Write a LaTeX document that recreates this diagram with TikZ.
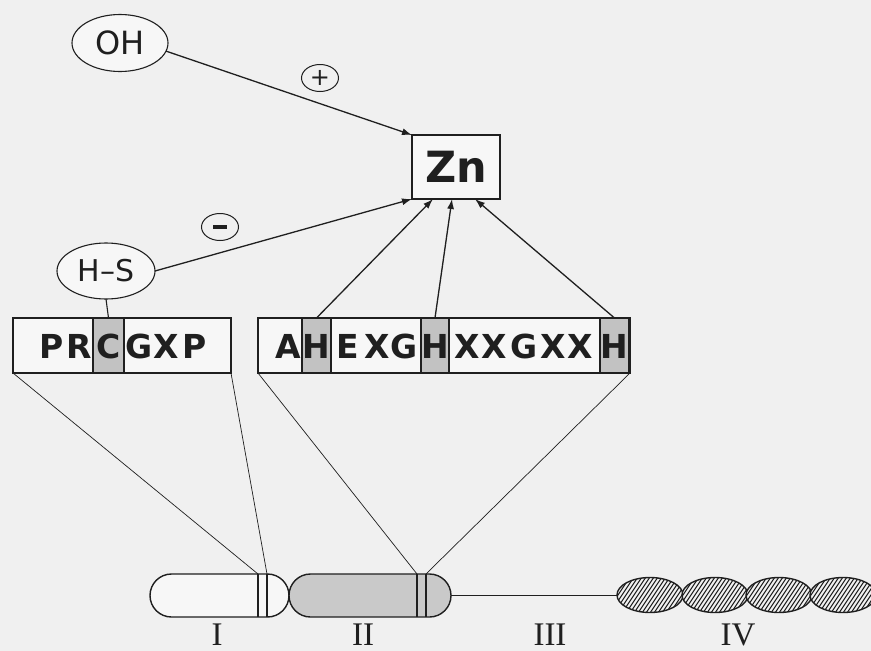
\documentclass[tikz,border=0pt]{standalone}
\usepackage{fontspec}
\setmainfont{Liberation Serif}
\setsansfont{DejaVu Sans}
\usetikzlibrary{arrows.meta,shapes.geometric}

\definecolor{paper}{gray}{0.94}
\definecolor{boxfill}{gray}{0.97}
\definecolor{hilite}{gray}{0.76}
\definecolor{domfill}{gray}{0.79}
\definecolor{ink}{gray}{0.12}

\tikzset{
  outline/.style={draw=ink, line width=1.4pt},
  tag/.style={ellipse, outline, line width=1.1pt, fill=boxfill, inner sep=0pt, outer sep=0pt,
              text=ink, font=\sffamily\fontsize{30}{30}\selectfont},
  sign/.style={ellipse, outline, line width=1pt, inner sep=0pt, outer sep=0pt,
               minimum width=37pt, minimum height=27pt, text=ink},
  seqbox/.style={rectangle, outline, line width=1.2pt, fill=boxfill, inner sep=0pt, outer sep=0pt,
                 minimum height=55pt},
  hlbox/.style={rectangle, outline, line width=1.2pt, fill=hilite, inner sep=0pt, outer sep=0pt,
                minimum height=55pt},
  residue/.style={inner sep=0pt, text=ink, anchor=base,
                  font=\sffamily\bfseries\fontsize{33}{33}\selectfont},
  bond/.style={draw=ink, line width=1.3pt, -{Latex[length=10pt,width=7pt]}},
  thin/.style={draw=ink, line width=0.7pt},
  domlabel/.style={inner sep=0pt, anchor=base, text=ink, font=\fontsize{33}{33}\selectfont},
}

\begin{document}
\begin{tikzpicture}[x=1pt,y=-1pt]
  % canvas
  \useasboundingbox (0,0) rectangle (871,651);
  \fill[paper] (0,0) rectangle (871,651);

  % zinc centre and its modulators
  \node[rectangle, outline, line width=1.2pt, fill=boxfill, minimum width=88pt, minimum height=64pt,
        inner sep=0pt, outer sep=0pt, text=ink, font=\sffamily\bfseries\fontsize{43}{43}\selectfont]
        (Zn) at (456,167) {Zn};
  \node[tag, minimum width=96pt, minimum height=57pt, font=\sffamily\fontsize{32}{32}\selectfont] (OH) at (120,43) {OH};
  \node[tag, minimum width=98pt, minimum height=56pt] (HS) at (106,271) {H–S};
  \node[sign, font=\sffamily\fontsize{24}{24}\selectfont] (plus) at (320,78) {+};
  \node[sign] (minus) at (220,227) {\rule{14pt}{3.6pt}};

  % cysteine switch motif
  \node[seqbox, minimum width=218pt] (prc) at (122,345.5) {};
  \node[hlbox, minimum width=31pt] (hc) at (108.5,345.5) {};
  \foreach \x/\l/\n in {52/P/r1, 79/R/r2, 109/C/r3, 139/G/r4, 166/X/r5, 195/P/r6}
    \node[residue] (\n) at (\x,358) {\l};

  % zinc binding motif
  \node[seqbox, minimum width=372pt] (ahe) at (444,345.5) {};
  \node[hlbox, minimum width=29pt] (h1) at (316.5,345.5) {};
  \node[hlbox, minimum width=28pt] (h2) at (435,345.5) {};
  \node[hlbox, minimum width=29pt] (h3) at (614.5,345.5) {};
  \foreach \x/\l/\n in {288/A/s1, 316.5/H/s2, 348/E/s3, 377/X/s4, 404/G/s5, 435/H/s6,
                        467/X/s7, 494/X/s8, 524/G/s9, 553/X/s10, 580/X/s11, 614.5/H/s12}
    \node[residue] (\n) at (\x,358) {\l};

  % bonds to zinc
  \coordinate (zb1) at (433,199);
  \coordinate (zb2) at (452,199);
  \coordinate (zb3) at (475,199);
  \draw[bond] (OH.-10) -- (Zn.north west);
  \draw[bond] (HS.east) -- (Zn.south west);
  \draw[bond] (h1.north) -- (zb1);
  \draw[bond] (h2.north) -- (zb2);
  \draw[bond] (h3.north) -- (zb3);
  \draw[draw=ink, line width=1.1pt] (HS.south) -- (hc.north);

  % domain architecture
  \draw[outline, fill=boxfill, rounded corners=21.5pt] (150,574) rectangle (289,617);
  \draw[outline, fill=domfill, rounded corners=21.5pt] (289,574) rectangle (451,617);
  \coordinate (d1a) at (258,574); \coordinate (d1b) at (267,574);
  \coordinate (d2a) at (417,574); \coordinate (d2b) at (426,574);
  \draw[draw=ink, line width=1.2pt] (d1a) -- ++(0,43) (d1b) -- ++(0,43)
                                     (d2a) -- ++(0,43) (d2b) -- ++(0,43);
  \draw[outline] (451,595.5) -- (618,595.5);

  % hatched repeats
  \foreach \cx in {650,715,779,843} {
    \begin{scope}
      \clip (\cx,595) ellipse [x radius=33, y radius=17.5];
      \fill[paper] (\cx-40,570) rectangle (\cx+40,620);
      \foreach \k in {-64,-60,...,64}
        \draw[draw=ink, line width=1pt] (\cx+\k-12,613) -- (\cx+\k+12,577);
    \end{scope}
    \draw[outline] (\cx,595) ellipse [x radius=33, y radius=17.5];
  }

  % motif locations within the domains
  \draw[thin] (prc.south west) -- (d1a);
  \draw[thin] (prc.south east) -- (d1b);
  \draw[thin] (ahe.south west) -- (d2a);
  \draw[thin] (ahe.south east) -- (d2b);

  % domain labels
  \node[domlabel] (L1) at (217,645) {I};
  \node[domlabel] (L2) at (363,645) {II};
  \node[domlabel] (L3) at (550,645) {III};
  \node[domlabel] (L4) at (738,645) {IV};
\end{tikzpicture}
\end{document}
